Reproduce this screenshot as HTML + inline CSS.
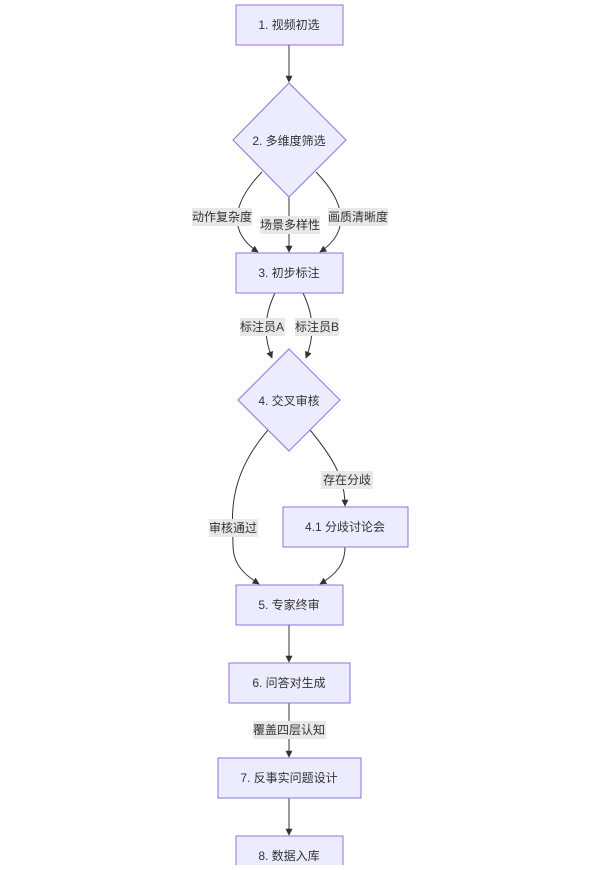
<!DOCTYPE html>
<html><head><meta charset="utf-8"><style>
body{margin:0;background:#fff;}
svg text{font-family:"Liberation Sans","Noto Sans CJK SC",sans-serif;font-size:12px;fill:#333;}
</style></head><body>
<svg width="600" height="865" viewBox="0 0 600 865" xmlns="http://www.w3.org/2000/svg">
<defs><marker id="a" viewBox="0 0 10 10" refX="9" refY="5" markerWidth="7" markerHeight="7" orient="auto"><path d="M0,0L10,5L0,10z" fill="#333"/></marker></defs>
<g fill="none" stroke="#333" stroke-width="1">
<path d="M289,45V82" marker-end="url(#a)"/>
<path d="M262,172C235,200 225,230 258,252" marker-end="url(#a)"/>
<path d="M289,197V252" marker-end="url(#a)"/>
<path d="M316,172C343,200 353,230 320,252" marker-end="url(#a)"/>
<path d="M275,293C262,320 265,340 272,358" marker-end="url(#a)"/>
<path d="M303,293C316,320 313,340 306,358" marker-end="url(#a)"/>
<path d="M268,430C225,480 233,520 233,545C233,565 245,575 259,584" marker-end="url(#a)"/>
<path d="M310,430C335,460 345,480 345,506" marker-end="url(#a)"/>
<path d="M345,547C345,565 335,575 320,584" marker-end="url(#a)"/>
<path d="M289,625V662" marker-end="url(#a)"/>
<path d="M289,703V757" marker-end="url(#a)"/>
<path d="M289,798V835" marker-end="url(#a)"/>
</g>
<g fill="#ececff" stroke="#9370db" stroke-width="1">
<rect x="236" y="5" width="107" height="40"/>
<polygon points="289,83 346,140 289,197 233,140"/>
<rect x="236" y="253" width="107" height="40"/>
<polygon points="289,349 340,400 289,451 238,400"/>
<rect x="283" y="507" width="125" height="40"/>
<rect x="236" y="585" width="107" height="40"/>
<rect x="229" y="663" width="121" height="40"/>
<rect x="218" y="758" width="143" height="40"/>
<rect x="236" y="836" width="107" height="40"/>
</g>
<g fill="#e8e8e8">
<rect x="192" y="208" width="60" height="18"/>
<rect x="260" y="216" width="60" height="18"/>
<rect x="328" y="208" width="60" height="18"/>
<rect x="240" y="318" width="45" height="18"/>
<rect x="295" y="318" width="44" height="18"/>
<rect x="321" y="471" width="52" height="18"/>
<rect x="209" y="519" width="49" height="18"/>
<rect x="253" y="721" width="73" height="18"/>
</g>
<g text-anchor="middle">
<text x="289" y="29">1. 视频初选</text>
<text x="289" y="145">2. 多维度筛选</text>
<text x="289" y="277">3. 初步标注</text>
<text x="289" y="405">4. 交叉审核</text>
<text x="345" y="531">4.1 分歧讨论会</text>
<text x="289" y="609">5. 专家终审</text>
<text x="289" y="687">6. 问答对生成</text>
<text x="289" y="782">7. 反事实问题设计</text>
<text x="289" y="860">8. 数据入库</text>
<text x="222" y="221">动作复杂度</text>
<text x="290" y="229">场景多样性</text>
<text x="358" y="221">画质清晰度</text>
<text x="262" y="331">标注员A</text>
<text x="317" y="331">标注员B</text>
<text x="347" y="484">存在分歧</text>
<text x="233" y="532">审核通过</text>
<text x="289" y="734">覆盖四层认知</text>
</g>
</svg>
</body></html>
